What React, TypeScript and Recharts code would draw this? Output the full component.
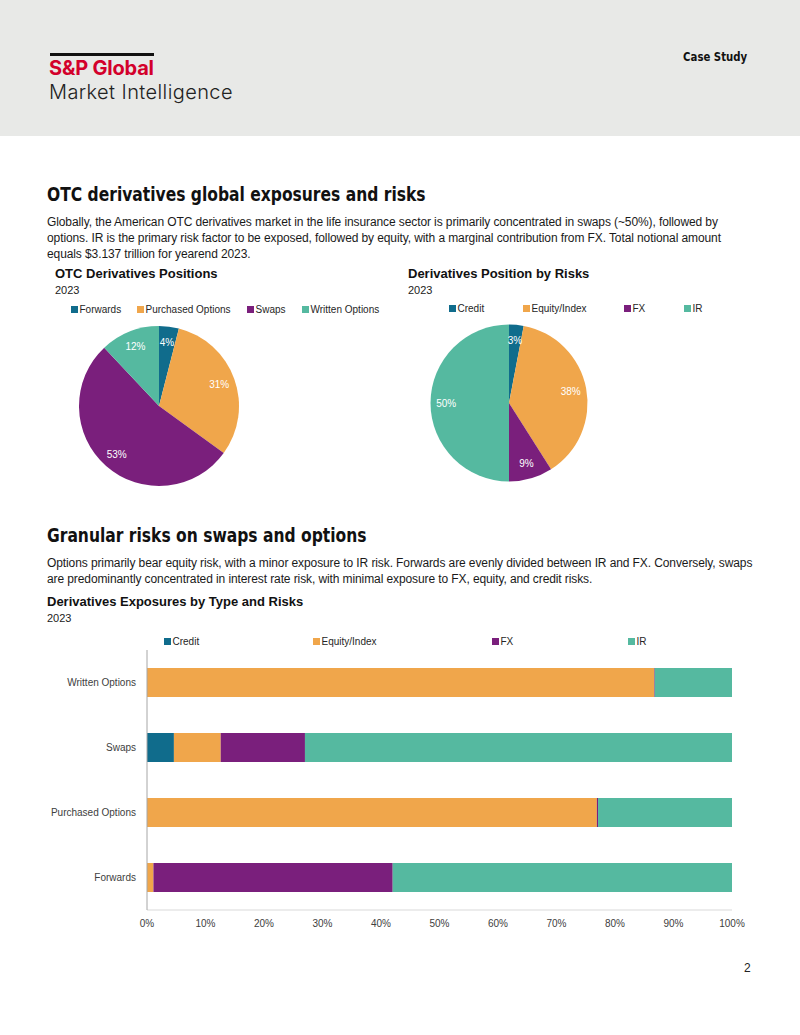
import React from "react";
import { PieChart, Pie, Cell, BarChart, Bar, XAxis, YAxis } from "recharts";

// OTC positions by instrument type (% of notional, 2023)
const positionNames = ["Forwards", "Purchased Options", "Swaps", "Written Options"];
const positionShares = [4, 31, 53, 12];

// Positions by risk factor (% of notional, 2023)
const riskNames = ["Credit", "Equity/Index", "FX", "IR"];
const riskShares = [3, 38, 9, 50];

// Exposure split by type and risk, in percent of each type
const exposureTypes = ["Written Options", "Swaps", "Purchased Options", "Forwards"];
const creditValues = [0, 4.6, 0, 0];
const equityValues = [86.7, 8.0, 76.9, 1.1];
const fxValues = [0.1, 14.4, 0.2, 40.9];
const irValues = [13.2, 73.0, 22.9, 58.0];
const xTicks = [0, 10, 20, 30, 40, 50, 60, 70, 80, 90, 100];

const COLORS = ["#106c8c", "#f0a64b", "#7a1f7c", "#55b9a0"];
const FONT = "'Liberation Sans', Arial, sans-serif";
const HEAD = "'DejaVu Sans', sans-serif";

const positionData = positionNames.map((name, i) => ({ name, value: positionShares[i] }));
const riskData = riskNames.map((name, i) => ({ name, value: riskShares[i] }));
const exposureData = exposureTypes.map((type, i) => ({
  type,
  credit: creditValues[i],
  equity: equityValues[i],
  fx: fxValues[i],
  ir: irValues[i],
}));

const RADIAN = Math.PI / 180;
const NO_MARGIN = { top: 0, right: 0, bottom: 0, left: 0 };

const renderPctLabel = (props: any) => {
  const { cx, cy, midAngle, outerRadius, value } = props;
  const r = outerRadius * 0.8;
  const x = cx + r * Math.cos(-midAngle * RADIAN);
  const y = cy + r * Math.sin(-midAngle * RADIAN);
  return (
    <text
      x={x}
      y={y}
      fill="#ffffff"
      fontSize={10}
      fontFamily={FONT}
      textAnchor="middle"
      dominantBaseline="central"
    >
      {`${value}%`}
    </text>
  );
};

const XTick = ({ x, y, payload }: any) => (
  <text x={x} y={y + 9} fill="#404040" fontSize={10} fontFamily={FONT} textAnchor="middle">
    {`${payload.value}%`}
  </text>
);

const YTick = ({ x, y, payload }: any) => (
  <text
    x={x - 3}
    y={y}
    fill="#404040"
    fontSize={10}
    fontFamily={FONT}
    textAnchor="end"
    dominantBaseline="central"
  >
    {payload.value}
  </text>
);

// one legend row; xs are the page x positions of the colour squares
const LegendRow = ({ names, xs, y }: { names: string[]; xs: number[]; y: number }) => (
  <>
    {names.map((n, i) => (
      <div
        key={n}
        style={{
          position: "absolute",
          left: xs[i],
          top: y - 7,
          height: 14,
          display: "flex",
          alignItems: "center",
          fontFamily: FONT,
          fontSize: 10,
          color: "#262626",
          whiteSpace: "nowrap",
        }}
      >
        <span
          style={{ display: "inline-block", width: 7, height: 7, background: COLORS[i], marginRight: 1.5 }}
        />
        {n}
      </div>
    ))}
  </>
);

const abs = (left: number, top: number, extra: React.CSSProperties = {}): React.CSSProperties => ({
  position: "absolute",
  left,
  top,
  whiteSpace: "nowrap",
  ...extra,
});

const bodyText: React.CSSProperties = {
  fontFamily: FONT,
  fontSize: 12,
  color: "#1a1a1a",
  letterSpacing: -0.1,
  lineHeight: "16px",
};

// section headings use a squeezed condensed bold face
const h2: React.CSSProperties = {
  fontFamily: HEAD,
  fontStretch: "condensed",
  fontWeight: 700,
  fontSize: 19.5,
  color: "#111",
  lineHeight: "26px",
  transform: "scaleX(0.885)",
  transformOrigin: "left center",
};

const chartTitle: React.CSSProperties = {
  fontFamily: FONT,
  fontWeight: 700,
  fontSize: 13,
  color: "#111",
  lineHeight: "16px",
};

const chartSub: React.CSSProperties = {
  fontFamily: FONT,
  fontSize: 11,
  color: "#222",
  lineHeight: "14px",
};

export default function App() {
  return (
    <div
      style={{
        position: "absolute",
        left: 0,
        top: 0,
        width: 800,
        height: 1035,
        background: "#fff",
        overflow: "hidden",
      }}
    >
      {/* header band */}
      <div style={abs(0, 0, { width: 800, height: 136, background: "#e8e9e7" })} />
      <div style={abs(50, 53, { width: 104, height: 3, background: "#111" })} />
      <div
        style={abs(49, 57, {
          fontFamily: "Inter, sans-serif",
          fontWeight: 700,
          fontSize: 20,
          letterSpacing: -0.2,
          color: "#d3002b",
          lineHeight: "22px",
        })}
      >
        S&amp;P Global
      </div>
      <div
        style={abs(49, 80, {
          fontFamily: "Inter, sans-serif",
          fontWeight: 300,
          fontSize: 20,
          letterSpacing: 0.4,
          color: "#222",
          lineHeight: "24px",
        })}
      >
        Market Intelligence
      </div>
      <div
        style={{
          position: "absolute",
          right: 53,
          top: 49,
          fontFamily: HEAD,
          fontStretch: "condensed",
          fontWeight: 700,
          fontSize: 12,
          color: "#111",
          lineHeight: "16px",
          whiteSpace: "nowrap",
          transform: "scaleX(0.94)",
          transformOrigin: "right center",
        }}
      >
        Case Study
      </div>

      {/* section 1 */}
      <div style={abs(47, 182, h2)}>OTC derivatives global exposures and risks</div>
      <div style={abs(47, 214, bodyText)}>
        Globally, the American OTC derivatives market in the life insurance sector is primarily concentrated in swaps (~50%), followed by
        <br />
        options. IR is the primary risk factor to be exposed, followed by equity, with a marginal contribution from FX. Total notional amount
        <br />
        equals $3.137 trillion for yearend 2023.
      </div>

      <div style={abs(55, 266, chartTitle)}>OTC Derivatives Positions</div>
      <div style={abs(55, 283, chartSub)}>2023</div>
      <div style={abs(408, 266, chartTitle)}>Derivatives Position by Risks</div>
      <div style={abs(408, 283, chartSub)}>2023</div>

      <LegendRow names={positionNames} xs={[71, 137, 247, 302]} y={309} />
      <LegendRow names={riskNames} xs={[449, 523, 624, 684]} y={308} />

      <div style={abs(40, 320)}>
        <PieChart width={350} height={180} margin={NO_MARGIN}>
          <Pie
            data={positionData}
            dataKey="value"
            nameKey="name"
            cx={119}
            cy={86}
            outerRadius={80}
            startAngle={90}
            endAngle={-270}
            stroke="none"
            label={renderPctLabel}
            labelLine={false}
            isAnimationActive={false}
          >
            {positionData.map((d, i) => (
              <Cell key={d.name} fill={COLORS[i]} />
            ))}
          </Pie>
        </PieChart>
      </div>

      <div style={abs(400, 320)}>
        <PieChart width={350} height={180} margin={NO_MARGIN}>
          <Pie
            data={riskData}
            dataKey="value"
            nameKey="name"
            cx={109}
            cy={83}
            outerRadius={78.5}
            startAngle={90}
            endAngle={-270}
            stroke="none"
            label={renderPctLabel}
            labelLine={false}
            isAnimationActive={false}
          >
            {riskData.map((d, i) => (
              <Cell key={d.name} fill={COLORS[i]} />
            ))}
          </Pie>
        </PieChart>
      </div>

      {/* section 2 */}
      <div style={abs(47, 523, h2)}>Granular risks on swaps and options</div>
      <div style={abs(47, 555, bodyText)}>
        Options primarily bear equity risk, with a minor exposure to IR risk. Forwards are evenly divided between IR and FX. Conversely, swaps
        <br />
        are predominantly concentrated in interest rate risk, with minimal exposure to FX, equity, and credit risks.
      </div>
      <div style={abs(47, 594, chartTitle)}>Derivatives Exposures by Type and Risks</div>
      <div style={abs(47, 611, chartSub)}>2023</div>

      <LegendRow names={riskNames} xs={[164, 313, 492, 628]} y={641} />

      <div style={abs(0, 620)}>
        <BarChart
          width={800}
          height={320}
          data={exposureData}
          layout="vertical"
          margin={{ top: 30, right: 68, bottom: 5, left: 40 }}
          barSize={29}
        >
          <XAxis
            type="number"
            domain={[0, 100]}
            ticks={xTicks}
            axisLine={{ stroke: "#d9d9d9" }}
            tickLine={false}
            tick={<XTick />}
            height={25}
          />
          <YAxis
            type="category"
            dataKey="type"
            width={107}
            axisLine={{ stroke: "#a6a6a6" }}
            tickLine={false}
            tick={<YTick />}
          />
          <Bar dataKey="credit" stackId="a" fill={COLORS[0]} isAnimationActive={false} />
          <Bar dataKey="equity" stackId="a" fill={COLORS[1]} isAnimationActive={false} />
          <Bar dataKey="fx" stackId="a" fill={COLORS[2]} isAnimationActive={false} />
          <Bar dataKey="ir" stackId="a" fill={COLORS[3]} isAnimationActive={false} />
        </BarChart>
      </div>

      <div style={abs(744, 960, { fontFamily: FONT, fontSize: 12, color: "#222", lineHeight: "16px" })}>2</div>
    </div>
  );
}
